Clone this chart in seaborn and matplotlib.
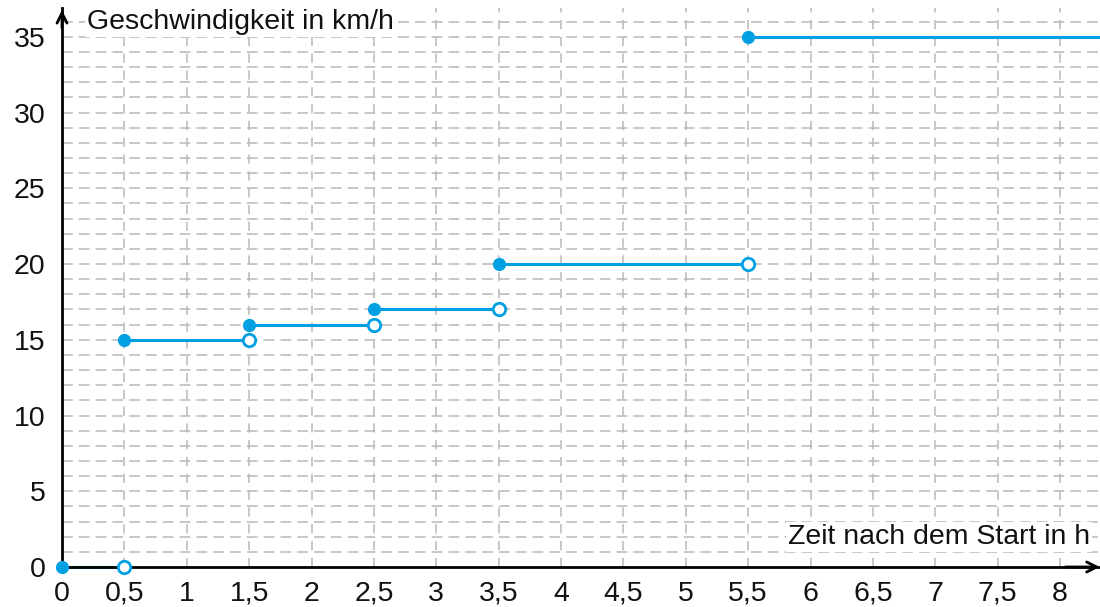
import numpy as np
import pandas as pd
import matplotlib
matplotlib.use("Agg")
import matplotlib.pyplot as plt
import seaborn as sns

# Data
seg_start = [0, 0.5, 1.5, 2.5, 3.5, 5.5]
seg_end = [0.5, 1.5, 2.5, 3.5, 5.5, 8.32]
speed = [0, 15, 16, 17, 20, 35]
open_end = [True, True, True, True, True, False]
x_ticks = [0, 0.5, 1, 1.5, 2, 2.5, 3, 3.5, 4, 4.5, 5, 5.5, 6, 6.5, 7, 7.5, 8]
y_ticks = [0, 5, 10, 15, 20, 25, 30, 35]
x_label = "Zeit nach dem Start in h"
y_label = "Geschwindigkeit in km/h"

BLUE = "#00a0e3"
GRID = "#b8b8b8"
FS = 20.5

sns.set_theme(style="white")
plt.rcParams['font.family'] = ['Liberation Sans', 'DejaVu Sans']

fig = plt.figure(figsize=(11, 6.07), dpi=100)
XMAX, YMAX = 8.32, 36.9
ax = fig.add_axes([62/1100, 40/607, (1100-62)/1100 * 1.0, (567-8)/607])
ax.set_xlim(0, XMAX)
ax.set_ylim(0, YMAX)

# grid
for xv in np.arange(0.5, 8.01, 0.5):
    ax.axvline(xv, color=GRID, lw=1.1, ls=(0, (6, 5)), zorder=0)
for yv in range(1, 37):
    ax.axhline(yv, color=GRID, lw=1.1, ls=(0, (7, 4)), zorder=0)

# segments
rows = []
for i, (s, e, v) in enumerate(zip(seg_start, seg_end, speed)):
    rows.append({"t": s, "v": v, "seg": i})
    rows.append({"t": e, "v": v, "seg": i})
df = pd.DataFrame(rows)
sns.lineplot(data=df, x="t", y="v", units="seg", estimator=None, color=BLUE,
             lw=2.2, ax=ax, legend=False, zorder=3, clip_on=False)

closed = pd.DataFrame({"t": seg_start, "v": speed})
sns.scatterplot(data=closed, x="t", y="v", color=BLUE, s=90, edgecolor=BLUE,
                linewidth=0, ax=ax, zorder=5, clip_on=False)
opn = pd.DataFrame({"t": [e for e, o in zip(seg_end, open_end) if o],
                    "v": [v for v, o in zip(speed, open_end) if o]})
sns.scatterplot(data=opn, x="t", y="v", facecolor="white", edgecolor=BLUE,
                s=80, linewidth=2, ax=ax, zorder=5, clip_on=False)

# axes styling
for sp in ["top", "right"]:
    ax.spines[sp].set_visible(False)
for sp in ["left", "bottom"]:
    ax.spines[sp].set_color("black")
    ax.spines[sp].set_linewidth(2)
    ax.spines[sp].set_zorder(4)
ax.set_xticks(x_ticks)
ax.set_xticklabels([f"{t:g}".replace(".", ",") for t in x_ticks])
ax.set_yticks(y_ticks)
ax.set_yticklabels([str(t) for t in y_ticks])
ax.tick_params(axis="both", direction="out", length=8, width=1.8, color="black",
               labelsize=FS, labelcolor="#111111", pad=4)
ax.tick_params(axis="x", pad=2)
ax.set_xlabel("")
ax.set_ylabel("")

# arrows
ax.annotate("", xy=(0, YMAX + 0.05), xytext=(0, YMAX - 1.5),
            arrowprops=dict(arrowstyle="->", color="black", lw=2, mutation_scale=18),
            annotation_clip=False)
ax.annotate("", xy=(XMAX + 0.02, 0), xytext=(XMAX - 0.3, 0),
            arrowprops=dict(arrowstyle="->", color="black", lw=2, mutation_scale=18),
            annotation_clip=False)

ax.text(0.2, 36.0, y_label, fontsize=FS, color="#111111", ha="left", va="center",
        bbox=dict(facecolor="white", edgecolor="none", pad=1.5), zorder=6)
ax.text(8.24, 1.95, x_label, fontsize=FS, color="#111111", ha="right", va="center",
        bbox=dict(facecolor="white", edgecolor="none", pad=1.5), zorder=6)

fig.savefig("out.png", dpi=100)
